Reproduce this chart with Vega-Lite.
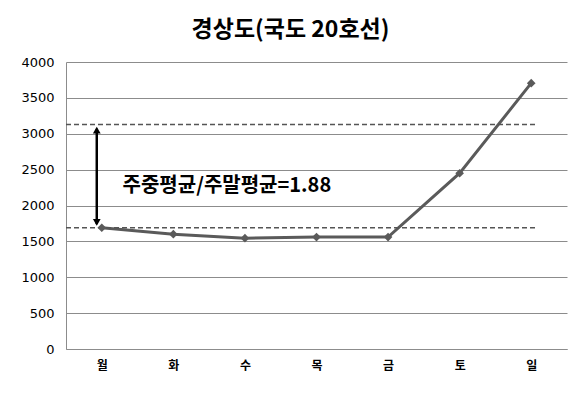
{
  "$schema": "https://vega.github.io/schema/vega-lite/v6.json",
  "width": 501,
  "height": 287,
  "autosize": {"type": "none"},
  "padding": {"left": 66, "top": 62, "right": 11, "bottom": 48},
  "background": "white",
  "title": {
    "text": "경상도(국도 20호선)",
    "font": "Noto Sans CJK KR",
    "fontSize": 23,
    "fontWeight": "bold",
    "color": "#000000",
    "anchor": "middle",
    "dx": -26,
    "offset": 14
  },
  "datasets": {
    "traffic": [
      {"day": "월", "idx": 0, "value": 1690},
      {"day": "화", "idx": 1, "value": 1600},
      {"day": "수", "idx": 2, "value": 1545},
      {"day": "목", "idx": 3, "value": 1560},
      {"day": "금", "idx": 4, "value": 1560},
      {"day": "토", "idx": 5, "value": 2450},
      {"day": "일", "idx": 6, "value": 3705}
    ],
    "refs": [
      {"label": "주말평균", "avg": 3130},
      {"label": "주중평균", "avg": 1690}
    ],
    "note": [
      {"text": "주중평균/주말평균=1.88"}
    ]
  },
  "config": {
    "view": {"stroke": null},
    "axis": {
      "domainColor": "#8c8c8c",
      "gridColor": "#8c8c8c",
      "labelColor": "#000000",
      "title": null,
      "ticks": false
    },
    "axisY": {
      "format": "d",
      "labelOverlap": false,
      "labelFont": "DejaVu Sans",
      "labelFontSize": 13,
      "labelPadding": 12,
      "grid": true
    },
    "axisX": {
      "grid": false,
      "labelPadding": 11,
      "labelFont": "Noto Sans CJK KR",
      "labelFontSize": 12,
      "labelFontWeight": "bold"
    }
  },
  "layer": [
    {
      "data": {"name": "traffic"},
      "mark": {"type": "line", "stroke": "#5a5a5a", "strokeWidth": 3},
      "encoding": {
        "x": {
          "field": "idx",
          "type": "quantitative",
          "scale": {"domain": [-0.5, 6.5], "nice": false, "zero": false},
          "axis": {"values": [0, 1, 2, 3, 4, 5, 6], "labelExpr": "['월','화','수','목','금','토','일'][datum.value]"}
        },
        "y": {
          "field": "value",
          "type": "quantitative",
          "scale": {"domain": [0, 4000], "nice": false},
          "axis": {"values": [0, 500, 1000, 1500, 2000, 2500, 3000, 3500, 4000]}
        }
      }
    },
    {
      "data": {"name": "refs"},
      "mark": {"type": "rule", "strokeDash": [5, 3], "stroke": "#555555", "strokeWidth": 1.5},
      "encoding": {
        "x": {"datum": -0.5, "type": "quantitative", "axis": {"values": [0, 1, 2, 3, 4, 5, 6], "labelExpr": "['월','화','수','목','금','토','일'][datum.value]"}},
        "x2": {"datum": 6.06},
        "y": {"field": "avg", "type": "quantitative", "axis": {"values": [0, 500, 1000, 1500, 2000, 2500, 3000, 3500, 4000]}}
      }
    },
    {
      "data": {"name": "traffic"},
      "mark": {"type": "point", "shape": "diamond", "filled": true, "color": "#5a5a5a", "size": 75, "opacity": 1},
      "encoding": {
        "x": {"field": "idx", "type": "quantitative", "axis": {"values": [0, 1, 2, 3, 4, 5, 6], "labelExpr": "['월','화','수','목','금','토','일'][datum.value]"}},
        "y": {"field": "value", "type": "quantitative", "axis": {"values": [0, 500, 1000, 1500, 2000, 2500, 3000, 3500, 4000]}}
      }
    },
    {
      "data": {"name": "note"},
      "mark": {"type": "rule", "stroke": "#000000", "strokeWidth": 2.5},
      "encoding": {
        "x": {"datum": -0.07, "type": "quantitative", "axis": {"values": [0, 1, 2, 3, 4, 5, 6], "labelExpr": "['월','화','수','목','금','토','일'][datum.value]"}},
        "y": {"datum": 1740, "type": "quantitative", "axis": {"values": [0, 500, 1000, 1500, 2000, 2500, 3000, 3500, 4000]}},
        "y2": {"datum": 3070}
      }
    },
    {
      "data": {"name": "note"},
      "mark": {"type": "point", "shape": "triangle-up", "filled": true, "color": "#000000", "size": 60, "opacity": 1},
      "encoding": {
        "x": {"datum": -0.07, "type": "quantitative", "axis": {"values": [0, 1, 2, 3, 4, 5, 6], "labelExpr": "['월','화','수','목','금','토','일'][datum.value]"}},
        "y": {"datum": 3050, "type": "quantitative", "axis": {"values": [0, 500, 1000, 1500, 2000, 2500, 3000, 3500, 4000]}}
      }
    },
    {
      "data": {"name": "note"},
      "mark": {"type": "point", "shape": "triangle-down", "filled": true, "color": "#000000", "size": 60, "opacity": 1},
      "encoding": {
        "x": {"datum": -0.07, "type": "quantitative", "axis": {"values": [0, 1, 2, 3, 4, 5, 6], "labelExpr": "['월','화','수','목','금','토','일'][datum.value]"}},
        "y": {"datum": 1765, "type": "quantitative", "axis": {"values": [0, 500, 1000, 1500, 2000, 2500, 3000, 3500, 4000]}}
      }
    },
    {
      "data": {"name": "note"},
      "mark": {"type": "text", "align": "left", "baseline": "middle", "font": "Noto Sans CJK KR", "fontSize": 20, "fontWeight": "bold", "color": "#000000"},
      "encoding": {
        "text": {"field": "text"},
        "x": {"datum": 0.29, "type": "quantitative", "axis": {"values": [0, 1, 2, 3, 4, 5, 6], "labelExpr": "['월','화','수','목','금','토','일'][datum.value]"}},
        "y": {"datum": 2272, "type": "quantitative", "axis": {"values": [0, 500, 1000, 1500, 2000, 2500, 3000, 3500, 4000]}}
      }
    }
  ]
}
